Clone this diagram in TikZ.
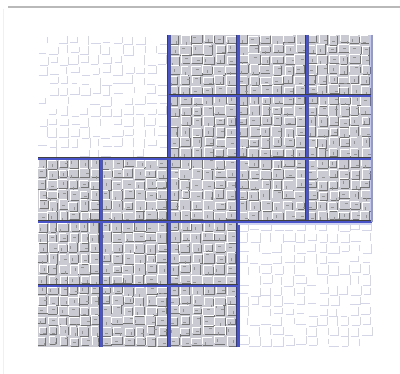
\documentclass[tikz,border=0pt]{standalone}
\definecolor{tilegray}{RGB}{202,202,210}
\definecolor{gridblue}{RGB}{72,84,200}
\definecolor{faintline}{RGB}{212,214,232}
\tikzset{
  tileshadow/.style={draw=black!55,line width=0.9pt},
  tilehi/.style={draw=white,line width=0.8pt},
  bump/.style={draw=black!42,line width=0.7pt},
  faintshadow/.style={draw=faintline,line width=0.8pt},
  blueline/.style={draw=gridblue,line width=2.4pt},
  darkline/.style={draw=black!75,line width=1pt},
  frameline/.style={draw=gray!55,line width=2pt}
}
\begin{document}
\begin{tikzpicture}[x=1pt,y=-1pt]
\useasboundingbox (0,0) rectangle (400,374);
\fill[white] (0,0) rectangle (400,374);
\draw[frameline] (8,7) -- (400,7);
\draw[draw=gray!12,line width=1pt] (3,9) -- (3,374);
\pgfmathsetseed{11}
% white (faint) cells
\foreach \c/\r in {0/0,1/0,0/1,1/1,3/3,4/3,3/4,4/4}{
  \pgfmathsetmacro\xa{{38,101,169,238,307,372}[\c]}
  \pgfmathsetmacro\xb{{38,101,169,238,307,372}[\c+1]}
  \pgfmathsetmacro\ya{{35,96,159,222,286,347}[\r]}
  \pgfmathsetmacro\yb{{35,96,159,222,286,347}[\r+1]}
  \foreach \i in {0,...,5}{
    \foreach \j in {0,...,5}{
      \pgfmathsetmacro\ta{\xa+(\xb-\xa)*\i/6+rand*1.5}
      \pgfmathsetmacro\tb{\xa+(\xb-\xa)*(\i+1)/6-1.5+rand*1.5}
      \pgfmathsetmacro\tc{\ya+(\yb-\ya)*\j/6+rand*1.5}
      \pgfmathsetmacro\td{\ya+(\yb-\ya)*(\j+1)/6-1.5+rand*1.5}
      \pgfmathsetmacro\pa{rnd}
      \pgfmathsetmacro\pb{rnd}
      \ifdim\pa pt>0.25pt \draw[faintshadow] (\ta+1,\td) -- (\tb,\td);\fi
      \ifdim\pb pt>0.25pt \draw[faintshadow] (\tb,\td) -- (\tb,\tc+1);\fi
    }
  }
}
% shaded cells
\foreach \c/\r in {2/0,3/0,4/0,2/1,3/1,4/1,0/2,1/2,2/2,3/2,4/2,0/3,1/3,2/3,0/4,1/4,2/4}{
  \pgfmathsetmacro\xa{{38,101,169,238,307,372}[\c]}
  \pgfmathsetmacro\xb{{38,101,169,238,307,372}[\c+1]}
  \pgfmathsetmacro\ya{{35,96,159,222,286,347}[\r]}
  \pgfmathsetmacro\yb{{35,96,159,222,286,347}[\r+1]}
  \fill[tilegray] (\xa,\ya) rectangle (\xb,\yb);
  \foreach \i in {0,...,5}{
    \foreach \j in {0,...,5}{
      \pgfmathsetmacro\ta{\xa+(\xb-\xa)*\i/6+rand*1.5}
      \pgfmathsetmacro\tb{\xa+(\xb-\xa)*(\i+1)/6-1.5+rand*1.5}
      \pgfmathsetmacro\tc{\ya+(\yb-\ya)*\j/6+rand*1.5}
      \pgfmathsetmacro\td{\ya+(\yb-\ya)*(\j+1)/6-1.5+rand*1.5}
      \pgfmathsetmacro\bx{\ta+2+5*rnd}
      \pgfmathsetmacro\by{\tc+2+5*rnd}
      \pgfmathsetmacro\pa{rnd}
      \pgfmathsetmacro\pb{rnd}
      \pgfmathsetmacro\pc{rnd}
      \draw[tilehi] (\ta,\td-1) -- (\ta,\tc) -- (\tb-1,\tc);
      \ifdim\pa pt>0.12pt \draw[tileshadow] (\ta+1,\td) -- (\tb,\td);\fi
      \ifdim\pb pt>0.12pt \draw[tileshadow] (\tb,\td) -- (\tb,\tc+1);\fi
      \ifdim\pc pt>0.5pt
        \draw[bump] (\bx,\by) -- ++(3,0);
      \else
        \draw[bump] (\bx,\by) -- ++(0,3);
      \fi
    }
  }
}
% blue grid lines with dark shadows
\foreach \x/\ya/\yb in {169/35/347,238/35/347,101/159/347,307/35/222}{
  \draw[darkline] (\x-1.6,\ya) -- (\x-1.6,\yb);
  \draw[blueline] (\x+0.3,\ya) -- (\x+0.3,\yb);
}
\foreach \y/\xa/\xb in {96/169/372,159/38/372,222/38/372,286/38/238}{
  \draw[darkline] (\xa,\y-1.6) -- (\xb,\y-1.6);
  \draw[blueline] (\xa,\y+0.3) -- (\xb,\y+0.3);
}
\draw[draw=gridblue!60,line width=2pt] (372,35) -- (372,222);
\draw[draw=gridblue!25,line width=2pt] (238,224.5) -- (372,224.5);
\end{tikzpicture}
\end{document}
